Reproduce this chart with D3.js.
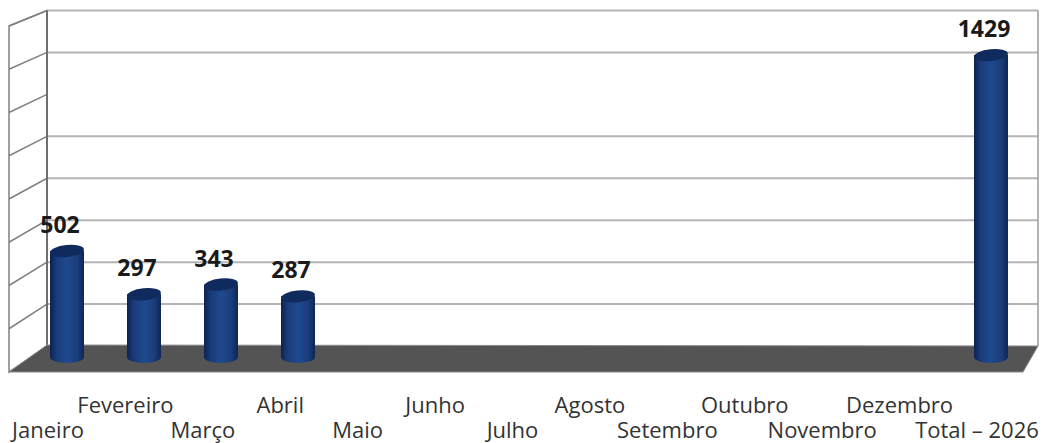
<!DOCTYPE html>
<html><head><meta charset="utf-8">
<script src="https://cdn.jsdelivr.net/npm/d3@7"></script>
<style>html,body{margin:0;padding:0;background:#fff;}svg{display:block;}</style>
</head><body>
<svg id="c" width="1053" height="443"></svg>
<script>
const categories = ["Janeiro","Fevereiro","Março","Abril","Maio","Junho","Julho","Agosto","Setembro","Outubro","Novembro","Dezembro","Total – 2026"];
const values = [502, 297, 343, 287, null, null, null, null, null, null, null, null, 1429];
const gridValues = [200, 400, 600, 800, 1000, 1400, 1600];
const sideTicks = [200, 400, 600, 800, 1000, 1200, 1400, 1600];
const yMax = 1600;

const svg = d3.select("#c");
const BL = 47, BR = 1038, FL = 9, FR = 1023;

const x = d3.scalePoint().domain(categories).range([67, 991]);
const xLab = d3.scalePoint().domain(categories).range([48, 977]);
const yBack = d3.scaleLinear().domain([0, yMax]).range([346, 10.5]);
const ySide = d3.scaleLinear().domain([0, yMax]).range([372, 26]);
const yBar = d3.scaleLinear().domain([0, yMax]).range([357, 19]);

const defs = svg.append("defs");
const g = defs.append("linearGradient").attr("id","cyl").attr("x1","0").attr("x2","1").attr("y1","0").attr("y2","0");
[[0,"#0d2150"],[0.18,"#183a78"],[0.5,"#204a8e"],[0.8,"#1a3d7a"],[1,"#0f2656"]].forEach(s=>g.append("stop").attr("offset",s[0]).attr("stop-color",s[1]));

// back wall
svg.append("rect").attr("x",BL).attr("y",yBack(yMax)).attr("width",BR-BL).attr("height",yBack(0)-yBack(yMax)).attr("fill","#fff");
// side wall
svg.append("polygon").attr("points",[[FL,ySide(yMax)],[BL,yBack(yMax)],[BL,yBack(0)],[FL,ySide(0)]].join(" ")).attr("fill","#fff").attr("stroke","#808080").attr("stroke-width",1.5);
svg.selectAll("line.side").data(sideTicks).join("line").attr("class","side")
  .attr("x1",FL).attr("x2",BL).attr("y1",d=>ySide(d)).attr("y2",d=>yBack(d))
  .attr("stroke","#808080").attr("stroke-width",1.5);
// gridlines
svg.selectAll("line.grid").data(gridValues).join("line").attr("class","grid")
  .attr("x1",BL).attr("x2",BR).attr("y1",d=>yBack(d)).attr("y2",d=>yBack(d))
  .attr("stroke","#b4b4b4").attr("stroke-width",2);
// wall edges
svg.append("line").attr("x1",BL).attr("x2",BL).attr("y1",yBack(yMax)).attr("y2",yBack(0)).attr("stroke","#6e6e6e").attr("stroke-width",2);
svg.append("line").attr("x1",BR).attr("x2",BR).attr("y1",yBack(yMax)).attr("y2",yBack(0)).attr("stroke","#9a9a9a").attr("stroke-width",1.5);

// floor
svg.append("polygon").attr("points",[[BL,yBack(0)-1],[BR,yBack(0)],[FR,ySide(0)],[FL,ySide(0)]].join(" "))
  .attr("fill","#545454").attr("stroke","#8a8a8a").attr("stroke-width",1);

// bars (cylinders)
const w = 34, ry = 6;
const data = categories.map((c,i)=>({c, v: values[i]})).filter(d=>d.v!=null);
const bars = svg.selectAll("g.bar").data(data).join("g").attr("class","bar");
bars.append("path").attr("d", d=>{
  const cx = x(d.c), l = cx - w/2, r = cx + w/2, t = yBar(d.v), b = yBar(0);
  return `M${l},${t} L${l},${b} A${w/2},${ry} 0 0 0 ${r},${b} L${r},${t} Z`;
}).attr("fill","url(#cyl)");
bars.append("ellipse").attr("cx",d=>x(d.c)).attr("cy",d=>yBar(d.v)).attr("rx",w/2).attr("ry",ry)
  .attr("transform",d=>`rotate(-6 ${x(d.c)} ${yBar(d.v)})`)
  .attr("fill","#0f2a5c");

// value labels
bars.append("text").attr("x",d=>x(d.c)-7).attr("y",d=>yBar(d.v)-18)
  .attr("text-anchor","middle").attr("font-family","'Open Sans', sans-serif").attr("font-weight","bold")
  .attr("font-size",23).attr("fill","#1a1a1a").text(d=>d.v);

// category labels (staggered)
svg.selectAll("text.cat").data(categories).join("text").attr("class","cat")
  .attr("x",d=>xLab(d)).attr("y",(d,i)=> i%2===0 ? 438 : 413)
  .attr("text-anchor","middle").attr("font-family","'Open Sans', sans-serif")
  .attr("font-size",22).attr("font-weight",500).attr("fill","#333").text(d=>d);
</script>
</body></html>
